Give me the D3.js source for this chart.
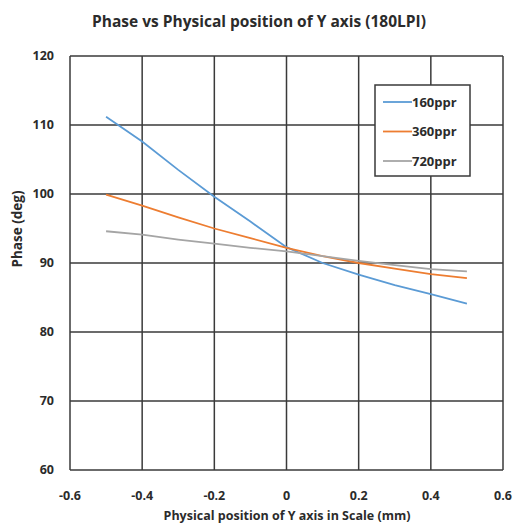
<!DOCTYPE html>
<html>
<head>
<meta charset="utf-8">
<script src="https://cdn.jsdelivr.net/npm/d3@7"></script>
<style>
  body { margin: 0; background: #fff; }
  text { font-family: "Open Sans", "Noto Sans", sans-serif; font-weight: bold; fill: #2b2b2b; }
</style>
</head>
<body>
<script>
// data
var positions = [-0.5, -0.4, -0.3, -0.2, -0.1, 0, 0.1, 0.2, 0.3, 0.4, 0.5];
var ppr160 = [111.2, 107.6, 103.5, 99.6, 96.0, 92.3, 90.0, 88.3, 86.8, 85.5, 84.1];
var ppr360 = [99.9, 98.3, 96.6, 95.0, 93.6, 92.2, 91.0, 90.0, 89.2, 88.4, 87.8];
var ppr720 = [94.6, 94.1, 93.4, 92.8, 92.2, 91.7, 91.0, 90.3, 89.7, 89.1, 88.8];
var seriesNames = ["160ppr", "360ppr", "720ppr"];
var xTicks = [-0.6, -0.4, -0.2, 0, 0.2, 0.4, 0.6];
var yTicks = [60, 70, 80, 90, 100, 110, 120];

var colors = ["#5B9BD5", "#ED7D31", "#A5A5A5"];
var allSeries = [ppr160, ppr360, ppr720];

var width = 515, height = 524;
var margin = {top: 56, right: 12, bottom: 54, left: 70};

var svg = d3.select("body").append("svg")
    .attr("width", width)
    .attr("height", height);

var x = d3.scaleLinear().domain([-0.6, 0.6]).range([margin.left, width - margin.right]);
var y = d3.scaleLinear().domain([60, 120]).range([height - margin.bottom, margin.top]);

// title
svg.append("text")
    .attr("x", 259).attr("y", 27)
    .attr("text-anchor", "middle")
    .style("font-size", "15.5px")
    .text("Phase vs Physical position of Y axis (180LPI)");

// grid
svg.append("g").selectAll("line")
    .data(xTicks).enter().append("line")
      .attr("x1", function(d) { return x(d); })
      .attr("x2", function(d) { return x(d); })
      .attr("y1", y(60)).attr("y2", y(120))
      .attr("stroke", "#3a3a3a").attr("stroke-width", 1.5);
svg.append("g").selectAll("line")
    .data(yTicks).enter().append("line")
      .attr("y1", function(d) { return y(d); })
      .attr("y2", function(d) { return y(d); })
      .attr("x1", x(-0.6)).attr("x2", x(0.6))
      .attr("stroke", "#3a3a3a").attr("stroke-width", 1.5);

// tick labels
svg.append("g").selectAll("text")
    .data(yTicks).enter().append("text")
      .attr("x", margin.left - 16)
      .attr("y", function(d) { return y(d); })
      .attr("dy", "0.35em")
      .attr("text-anchor", "end")
      .style("font-size", "12.5px")
      .text(function(d) { return d; });
svg.append("g").selectAll("text")
    .data(xTicks).enter().append("text")
      .attr("x", function(d) { return x(d); })
      .attr("y", 500)
      .attr("text-anchor", "middle")
      .style("font-size", "12.5px")
      .text(function(d) { return d; });

// axis titles
svg.append("text")
    .attr("x", 287)
    .attr("y", 520)
    .attr("text-anchor", "middle")
    .style("font-size", "12.5px")
    .text("Physical position of Y axis in Scale (mm)");
svg.append("text")
    .attr("transform", "translate(22," + 229 + ") rotate(-90)")
    .attr("text-anchor", "middle")
    .style("font-size", "13.5px")
    .text("Phase (deg)");

// lines
var line = d3.line()
    .x(function(d, i) { return x(positions[i]); })
    .y(function(d) { return y(d); });

allSeries.forEach(function(s, i) {
  svg.append("path")
      .datum(s)
      .attr("d", line)
      .attr("fill", "none")
      .attr("stroke", colors[i])
      .attr("stroke-width", 1.8);
});

// legend
var legend = svg.append("g").attr("transform", "translate(375,85)");
legend.append("rect")
    .attr("width", 95).attr("height", 91)
    .attr("fill", "#fff").attr("stroke", "#3a3a3a").attr("stroke-width", 1.5);
seriesNames.forEach(function(name, i) {
  var g = legend.append("g").attr("transform", "translate(0," + (17 + i * 29.5) + ")");
  g.append("line")
      .attr("x1", 8).attr("x2", 37)
      .attr("stroke", colors[i]).attr("stroke-width", 1.8);
  g.append("text")
      .attr("x", 37).attr("dy", "0.35em")
      .style("font-size", "13px")
      .text(name);
});
</script>
</body>
</html>
